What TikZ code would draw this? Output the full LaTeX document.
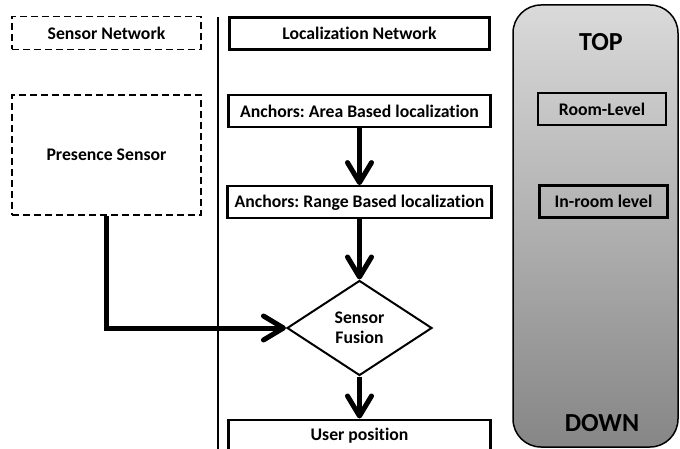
\documentclass[tikz,border=0pt]{standalone}
\usepackage{fontspec}
\setmainfont[Ligatures=NoCommon]{Carlito}
\usetikzlibrary{positioning,arrows.meta,shapes.geometric}
\definecolor{panelTop}{RGB}{218,218,218}
\definecolor{panelBottom}{RGB}{134,134,134}
\frenchspacing

\begin{document}
\begin{tikzpicture}[
  x=1pt,y=-1pt,
  every node/.style={font=\fontsize{17.7}{19.5}\selectfont\bfseries},
  stage/.style={draw,rectangle,line width=2.4pt,minimum height=32pt,inner sep=2pt},
  sensorbox/.style={draw,rectangle,line width=1.6pt,dash pattern=on 7pt off 4pt,minimum width=189pt},
  fusionbox/.style={draw,diamond,line width=2pt,align=center,inner sep=0pt,minimum width=145pt,minimum height=95pt},
  levelbox/.style={draw,rectangle,line width=2.2pt,minimum width=128pt,minimum height=32pt},
  panel/.style={draw,rectangle,line width=1.5pt,rounded corners=28pt,top color=panelTop,bottom color=panelBottom,minimum width=165pt,minimum height=442pt},
  flow/.style={line width=5pt,-{Straight Barb[length=20pt,width=24pt,round]}},
]
  \useasboundingbox (0,0) rectangle (680,449);

  % Sensor network column
  \node[sensorbox,minimum height=33pt] (senet) at (106.5,33) {Sensor Network};
  \node[sensorbox,minimum height=120pt] (pres) at (106.5,155) {Presence Sensor};

  % Divider
  \coordinate (divtop) at (218,17);
  \coordinate (divbot) at (218,449);
  \draw[line width=1.5pt] (divtop) -- (divbot);

  % Localization network column
  \node[stage,minimum width=260pt] (loc) at (359.5,33.5) {Localization Network};
  \node[stage,minimum width=262pt,below=43pt of loc] (area) {Anchors: Area Based localization};
  \node[stage,minimum width=264pt,below=57pt of area] (range) {Anchors: Range Based localization};
  \node[fusionbox,below=60pt of range] (fusion) {Sensor\\Fusion};
  \node[stage,minimum width=262pt,below=42pt of fusion] (user) {User position};

  % Level scale
  \node[panel] (scale) at (595.5,226) {};
  \node[font=\fontsize{26}{28}\selectfont\bfseries] (top) at (601,42) {TOP};
  \node[levelbox] (room) at (602,109) {Room-Level};
  \node[levelbox] (inroom) at (603.5,201.5) {In-room level};
  \node[font=\fontsize{26}{28}\selectfont\bfseries] (down) at (602,423) {DOWN};

  % Edges
  \draw[flow] (area) -- (range);
  \draw[flow] (range) -- (fusion);
  \draw[flow] (fusion) -- (user);
  \draw[flow] (pres.south) |- (fusion.west);
\end{tikzpicture}
\end{document}
